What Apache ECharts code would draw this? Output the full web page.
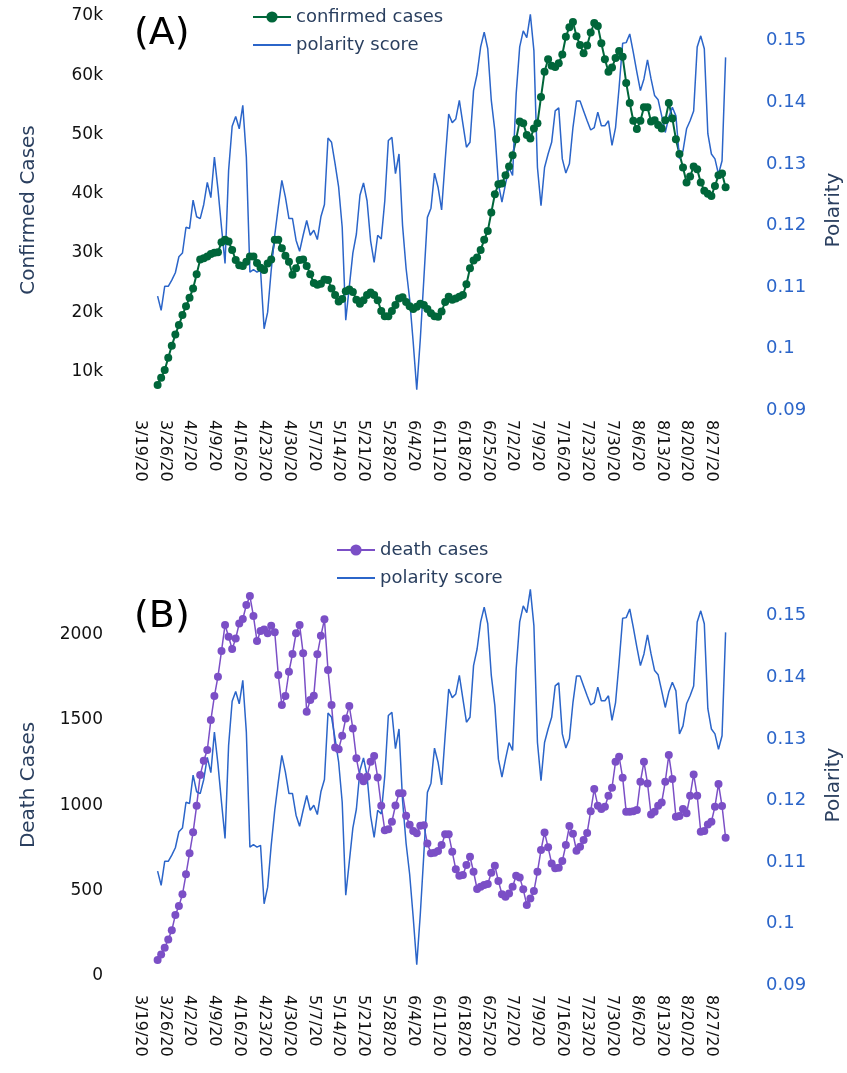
<!DOCTYPE html>
<html>
<head>
<meta charset="utf-8">
<script src="https://cdn.jsdelivr.net/npm/echarts@6/dist/echarts.min.js"></script>
<style>
html,body{margin:0;padding:0;background:#fff;overflow:hidden;}
#chart{width:847px;height:1073px;}
</style>
</head>
<body>
<div id="chart"></div>
<script>
// Weekly tick labels (every 7 days from 3/19/20)
const tickLabels = ['3/19/20','3/26/20','4/2/20','4/9/20','4/16/20','4/23/20','4/30/20','5/7/20','5/14/20','5/21/20','5/28/20','6/4/20','6/11/20','6/18/20','6/25/20','7/2/20','7/9/20','7/16/20','7/23/20','7/30/20','8/6/20','8/13/20','8/20/20','8/27/20'];
// first observation (3/24/20) is 5 days after 3/19/20; one value per day through 8/31/20
const firstDayOffset = 5;

const confirmedCases = [7700,8900,10200,12300,14300,16200,17800,19500,21000,22400,
24000,26400,28900,29100,29400,29800,30000,30100,31800,32200,
31900,30500,28800,27900,27800,28500,29400,29400,28300,27500,
27100,28200,28900,32200,32200,30800,29500,28500,26300,27400,
28800,28900,27800,26400,24900,24600,24800,25500,25400,24000,
22900,21800,22200,23500,23800,23400,22100,21400,22000,22900,
23300,22900,22000,20200,19300,19300,20200,21200,22300,22500,
21700,21000,20500,20900,21400,21200,20500,19800,19300,19200,
20100,21700,22600,22100,22300,22600,22900,24700,27400,28700,
29200,30500,32200,33700,36800,39900,41600,41700,43100,44600,
46500,49200,52200,51900,49900,49300,51000,51900,56300,60600,
62700,61600,61400,62000,63500,66500,68100,69000,66600,65100,
63700,65000,67200,68800,68300,65400,62700,60600,61300,62900,
64100,63100,58700,55300,52300,50900,52300,54600,54600,52200,
52400,51600,51000,52400,55300,52700,49200,46700,44400,41900,
42900,44600,44100,41900,40500,40000,39600,41300,43100,43400,
41100];

const deathCases = [93,126,165,214,267,357,409,478,595,718,
841,997,1176,1260,1323,1498,1639,1752,1902,2055,
1986,1914,1976,2064,2090,2172,2224,2107,1961,2019,
2029,2006,2051,2012,1762,1586,1639,1781,1885,2006,
2055,1889,1547,1615,1641,1883,1992,2088,1791,1586,
1338,1328,1406,1508,1580,1449,1274,1166,1140,1166,
1254,1288,1162,996,853,859,903,998,1069,1069,
938,885,848,835,879,882,775,718,721,731,
766,829,829,727,624,587,591,649,698,610,
509,522,532,538,604,645,556,478,464,483,
522,587,577,507,415,454,497,610,737,840,
753,659,630,634,673,766,878,833,733,757,
796,837,965,1094,997,977,991,1055,1102,1254,
1284,1161,961,961,965,971,1137,1254,1127,946,
961,997,1016,1137,1293,1153,932,936,977,952,
1055,1180,1055,844,848,887,903,991,1124,995,
809];

const polarityScore = [0.1085,0.1062,0.1101,0.1101,0.1111,0.1123,0.1149,0.1155,0.1197,0.1195,
0.1241,0.1214,0.1211,0.1234,0.1270,0.1245,0.1311,0.1259,0.1197,0.1138,
0.1289,0.1361,0.1377,0.1357,0.1395,0.1311,0.1124,0.1128,0.1124,0.1127,
0.1032,0.1059,0.1127,0.1184,0.1230,0.1273,0.1246,0.1211,0.1211,0.1176,
0.1158,0.1184,0.1208,0.1184,0.1192,0.1177,0.1214,0.1234,0.1342,0.1335,
0.1300,0.1262,0.1197,0.1046,0.1100,0.1155,0.1186,0.1249,0.1269,0.1240,
0.1175,0.1140,0.1184,0.1178,0.1240,0.1338,0.1343,0.1284,0.1316,0.1200,
0.1130,0.1080,0.1010,0.0933,0.1015,0.1113,0.1213,0.1228,0.1285,0.1262,
0.1225,0.1305,0.1381,0.1367,0.1373,0.1403,0.1365,0.1327,0.1335,0.1419,
0.1446,0.1490,0.1514,0.1487,0.1403,0.1354,0.1267,0.1238,0.1267,0.1294,
0.1281,0.1413,0.1490,0.1516,0.1505,0.1543,0.1484,0.1294,0.1232,0.1294,
0.1316,0.1335,0.1386,0.1391,0.1308,0.1285,0.1300,0.1359,0.1402,0.1402,
0.1386,0.1370,0.1355,0.1359,0.1384,0.1362,0.1362,0.1370,0.1330,0.1359,
0.1424,0.1496,0.1497,0.1511,0.1481,0.1449,0.1419,0.1438,0.1469,0.1438,
0.1411,0.1404,0.1378,0.1351,0.1376,0.1392,0.1378,0.1308,0.1321,0.1357,
0.1370,0.1386,0.1490,0.1508,0.1487,0.1349,0.1316,0.1308,0.1283,0.1305,
0.1473];

const toXY = arr => arr.map((v, i) => [i + firstDayOffset, v]);

const FONT = 'DejaVu Sans';
const GREEN = '#00663a';
const PURPLE = '#7b4fc6';
const BLUE = '#2b65c9';
const TITLE = '#2a3f5f';
const LINE_ICON = 'path://M0,0L40,0L40,2L0,2Z';

function xAxisFor(gridIndex) {
  return {
    type: 'value', gridIndex, min: -7, max: 173, interval: 1,
    axisLine: {show: false}, axisTick: {show: false}, splitLine: {show: false},
    axisLabel: {
      rotate: -90, margin: 10, color: '#111', fontSize: 16, fontFamily: FONT,
      formatter: v => { const r = Math.round(v); if (r % 7 !== 0) return ''; const k = r / 7; return tickLabels[k] || ''; }
    }
  };
}
function leftAxis(gridIndex, min, max, name, fmt) {
  return {
    type: 'value', gridIndex, min, max, position: 'left',
    name, nameLocation: 'middle', nameGap: 76, nameRotate: 90,
    nameTextStyle: {color: TITLE, fontSize: 20, fontFamily: FONT},
    axisLine: {show: false}, axisTick: {show: false}, splitLine: {show: false},
    axisLabel: {showMinLabel: false, showMaxLabel: false, margin: 12, color: '#111', fontSize: 17, fontFamily: FONT, formatter: fmt}
  };
}
function rightAxis(gridIndex) {
  return {
    type: 'value', gridIndex, min: 0.09, max: 0.155, interval: 0.01, position: 'right',
    name: 'Polarity', nameLocation: 'middle', nameGap: 70, nameRotate: 90,
    nameTextStyle: {color: TITLE, fontSize: 20, fontFamily: FONT},
    axisLine: {show: false}, axisTick: {show: false}, splitLine: {show: false},
    axisLabel: {showMaxLabel: false, margin: 12, color: BLUE, fontSize: 18, fontFamily: FONT,
      formatter: v => (Math.round(v * 1000) / 1000).toString()}
  };
}
const legendText = {color: TITLE, fontSize: 18, fontFamily: FONT, lineHeight: 20};

const chart = echarts.init(document.getElementById('chart'), null, {renderer: 'canvas', width: 847, height: 1073});
chart.setOption({
  animation: false,
  backgroundColor: '#fff',
  textStyle: {fontFamily: FONT},
  grid: [
    {left: 115, right: 93, top: 10, height: 400, containLabel: false, outerBoundsMode: 'none'},
    {left: 115, right: 93, top: 585, height: 400, containLabel: false, outerBoundsMode: 'none'}
  ],
  xAxis: [xAxisFor(0), xAxisFor(1)],
  yAxis: [
    leftAxis(0, 3464, 71013, 'Confirmed Cases', v => (v / 1000) + 'k'),
    rightAxis(0),
    leftAxis(1, -53, 2289, 'Death Cases', v => String(v)),
    rightAxis(1)
  ],
  legend: [
    {data: ['confirmed cases', {name: 'polarity score', icon: LINE_ICON}], orient: 'vertical', left: 247, top: 2,
     itemWidth: 38, itemHeight: 14, itemGap: 8, textStyle: legendText},
    {data: ['death cases', {name: 'polarity score', icon: LINE_ICON}], orient: 'vertical', left: 331, top: 535,
     itemWidth: 38, itemHeight: 14, itemGap: 8, textStyle: legendText}
  ],
  graphic: [
    {type: 'text', left: 134, top: 15, style: {text: '(A)', fontSize: 38, fontFamily: FONT, fill: '#000'}},
    {type: 'text', left: 134, top: 598, style: {text: '(B)', fontSize: 38, fontFamily: FONT, fill: '#000'}}
  ],
  series: [
    {name: 'confirmed cases', type: 'line', xAxisIndex: 0, yAxisIndex: 0, data: toXY(confirmedCases),
     symbol: 'circle', symbolSize: 8, showSymbol: true, lineStyle: {color: GREEN, width: 2}, itemStyle: {color: GREEN}},
    {name: 'polarity score', type: 'line', xAxisIndex: 0, yAxisIndex: 1, data: toXY(polarityScore),
     symbol: 'none', lineStyle: {color: BLUE, width: 1.5}, itemStyle: {color: BLUE}},
    {name: 'death cases', type: 'line', xAxisIndex: 1, yAxisIndex: 2, data: toXY(deathCases),
     symbol: 'circle', symbolSize: 8, showSymbol: true, lineStyle: {color: PURPLE, width: 1.5}, itemStyle: {color: PURPLE}},
    {name: 'polarity score', type: 'line', xAxisIndex: 1, yAxisIndex: 3, data: toXY(polarityScore),
     symbol: 'none', lineStyle: {color: BLUE, width: 1.5}, itemStyle: {color: BLUE}}
  ]
});
</script>
</body>
</html>
